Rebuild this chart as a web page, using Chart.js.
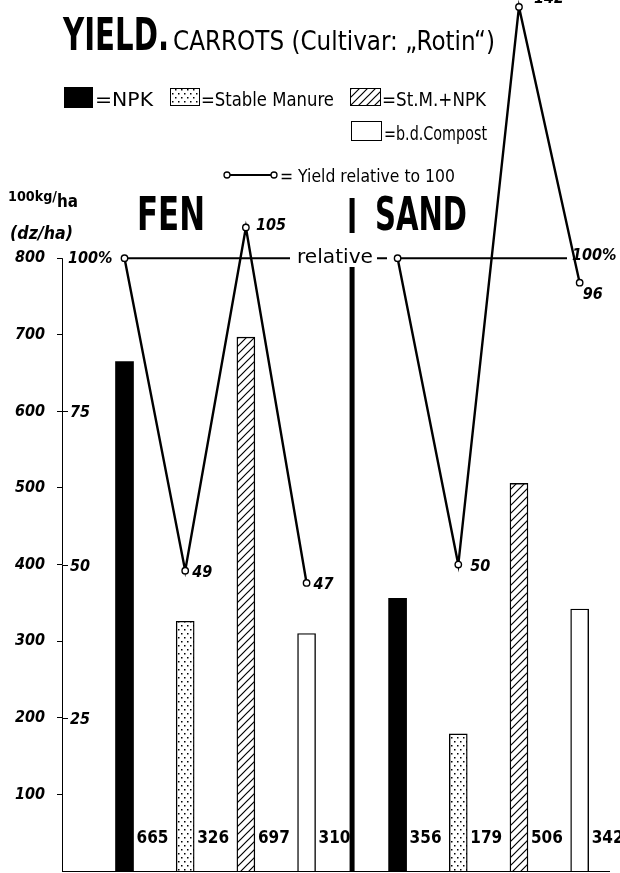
<!DOCTYPE html>
<html>
<head>
<meta charset="utf-8">
<script src="https://cdn.jsdelivr.net/npm/chart.js@4.4.0/dist/chart.umd.min.js"></script>
<style>
  html, body { margin: 0; padding: 0; background: #fff; }
  canvas { display: block; }
</style>
</head>
<body>
<canvas id="yieldChart" width="620" height="873"></canvas>
<script>
// Data
const soils = ['FEN', 'SAND'];
const treatments = ['NPK', 'Stable Manure', 'St.M.+NPK', 'b.d.Compost'];
const fenYield = [665, 326, 697, 310];      // 100 kg/ha
const sandYield = [356, 179, 506, 342];
const fenRelative = [100, 49, 105, 47];     // yield relative to 100
const sandRelative = [100, 50, 141, 96];
const relLabels = ['', '49', '105', '47', '', '50', '142', '96'];
// order of the plots along the x axis (sand group set a bit further apart)
const fenSlot = [1, 2, 3, 4];
const sandSlot = [5.5, 6.5, 7.5, 8.5];
const dividerSlot = 4.75;
const yTicks = [100, 200, 300, 400, 500, 600, 700, 800];
const relTicks = [25, 50, 75];
const Y_MAX = 1137;   // top of the plot area in kg units (100% = 800)

const COND = '"DejaVu Sans Condensed", "Liberation Sans Narrow", "DejaVu Sans", sans-serif';
const SANS = '"DejaVu Sans", sans-serif';

const canvas = document.getElementById('yieldChart');
const ctx = canvas.getContext('2d');

// fill patterns for the bars
function dotPattern() {
    const c = document.createElement('canvas');
    c.width = 6; c.height = 8;
    const g = c.getContext('2d');
    g.fillStyle = '#fff';
    g.fillRect(0, 0, 6, 8);
    g.fillStyle = '#000';
    g.fillRect(1, 1, 1.5, 1.5);
    g.fillRect(4, 5, 1.5, 1.5);
    return ctx.createPattern(c, 'repeat');
}
function hatchPattern() {
    const c = document.createElement('canvas');
    c.width = 8; c.height = 8;
    const g = c.getContext('2d');
    g.fillStyle = '#fff';
    g.fillRect(0, 0, 8, 8);
    g.strokeStyle = '#000';
    g.lineWidth = 1.2;
    g.beginPath();
    g.moveTo(0, 8); g.lineTo(8, 0);
    g.moveTo(-2, 2); g.lineTo(2, -2);
    g.moveTo(6, 10); g.lineTo(10, 6);
    g.stroke();
    return ctx.createPattern(c, 'repeat');
}
const fills = ['#000', dotPattern(), hatchPattern(), '#fff'];

// draw text squeezed/stretched to a given width
function fitText(c, txt, x, y, w, font) {
    c.font = font;
    const m = c.measureText(txt).width;
    c.save();
    c.translate(x, y);
    c.scale(w / m, 1);
    c.textAlign = 'left';
    c.fillText(txt, 0, 0);
    c.restore();
}

const barSets = treatments.map((t, i) => ({
    type: 'bar',
    label: t,
    data: [{ x: fenSlot[i], y: fenYield[i] }, { x: sandSlot[i], y: sandYield[i] }],
    backgroundColor: fills[i],
    borderColor: '#000',
    borderWidth: i === 0 ? 0 : 1.4,
    borderSkipped: 'bottom',
    barThickness: 18,
    grouped: false,
    yAxisID: 'y',
    order: 2
}));

const lineSet = {
    type: 'line',
    label: 'Yield relative to 100',
    data: [
        ...fenSlot.map((x, i) => ({ x: x, y: fenRelative[i] })),
        { x: dividerSlot, y: null },
        ...sandSlot.map((x, i) => ({ x: x, y: sandRelative[i] }))
    ],
    borderColor: '#000',
    borderWidth: 2.4,
    tension: 0,
    spanGaps: false,
    pointRadius: 3.2,
    pointBorderWidth: 1.4,
    pointBackgroundColor: '#fff',
    pointBorderColor: '#000',
    yAxisID: 'y2',
    order: 0,
    clip: false
};

const decor = {
    id: 'decor',
    beforeDatasetsDraw(chart) {
        const c = chart.ctx, a = chart.chartArea;
        const y = chart.scales.y, y2 = chart.scales.y2, x = chart.scales.x;
        c.save();
        c.strokeStyle = '#000';
        c.fillStyle = '#000';
        // y axis and baseline
        c.lineWidth = 1;
        c.beginPath();
        c.moveTo(a.left + 0.5, y.getPixelForValue(800));
        c.lineTo(a.left + 0.5, a.bottom);
        c.moveTo(a.left, a.bottom + 0.5);
        c.lineTo(a.right, a.bottom + 0.5);
        c.stroke();
        // relative scale ticks on the right side of the axis
        c.font = 'italic bold 16px ' + COND;
        c.textBaseline = 'middle';
        relTicks.forEach(v => {
            const py = Math.round(y2.getPixelForValue(v)) + 0.5;
            c.beginPath();
            c.moveTo(a.left, py);
            c.lineTo(a.left + 6, py);
            c.stroke();
            c.fillText(String(v), a.left + 8, py + 1);
        });
        c.fillText('100%', a.left + 6, y2.getPixelForValue(100) + 1);
        // reference line at 100 %
        const ry = y2.getPixelForValue(100);
        c.lineWidth = 2;
        c.beginPath();
        c.moveTo(x.getPixelForValue(fenSlot[0]), ry);
        c.lineTo(290, ry);
        c.moveTo(377, ry);
        c.lineTo(387, ry);
        c.moveTo(x.getPixelForValue(sandSlot[0]), ry);
        c.lineTo(567, ry);
        c.stroke();
        c.textBaseline = 'alphabetic';
        fitText(c, 'relative', 297, ry + 5, 76, '20px ' + SANS);
        c.font = 'italic bold 16px ' + COND;
        c.textBaseline = 'middle';
        c.fillText('100%', 572, ry - 2);
        // divider between fen and sand
        const dx = x.getPixelForValue(dividerSlot);
        c.lineWidth = 5;
        c.beginPath();
        c.moveTo(dx, 198);
        c.lineTo(dx, 233);
        c.moveTo(dx, 267);
        c.lineTo(dx, a.bottom);
        c.stroke();
        c.restore();
    },
    afterDatasetsDraw(chart) {
        const c = chart.ctx;
        c.save();
        c.fillStyle = '#000';
        c.strokeStyle = '#000';
        c.textBaseline = 'alphabetic';
        // yield values at the foot of each bar
        c.font = 'bold 17px ' + COND;
        treatments.forEach((t, i) => {
            chart.getDatasetMeta(i).data.forEach((el, j) => {
                const v = j === 0 ? fenYield[i] : sandYield[i];
                c.fillText(String(v), el.x + el.width / 2 + 3, 843);
            });
        });
        // relative values next to the points
        const offs = [[0, 0], [7, 6], [10, 2], [7, 6], [0, 0], [12, 6], [15, -4], [3, 16]];
        const pts = chart.getDatasetMeta(treatments.length).data.filter((p, k) => k !== 4);
        c.font = 'italic bold 16px ' + COND;
        pts.forEach((p, k) => {
            if (!relLabels[k]) return;
            c.fillText(relLabels[k], p.x + offs[k][0], p.y + offs[k][1]);
        });
        // title
        fitText(c, 'YIELD.', 63, 50, 106, 'bold 44px ' + SANS);
        fitText(c, 'CARROTS (Cultivar: \u201ERotin\u201C)', 173, 50, 322, '26px ' + SANS);
        // legend
        const sw = [[64, 87, 29, 21], [170, 88, 30, 18], [350, 88, 31, 18], [351, 121, 31, 20]];
        sw.forEach((s, i) => {
            c.fillStyle = fills[i];
            c.fillRect(s[0], s[1], s[2], s[3]);
            c.lineWidth = 1;
            c.strokeStyle = '#000';
            c.strokeRect(s[0] + 0.5, s[1] + 0.5, s[2] - 1, s[3] - 1);
        });
        c.fillStyle = '#000';
        fitText(c, '=NPK', 95, 106, 58, '19px ' + SANS);
        fitText(c, '=Stable Manure', 201, 106, 133, '19px ' + SANS);
        fitText(c, '=St.M.+NPK', 382, 106, 104, '19px ' + SANS);
        fitText(c, '=b.d.Compost', 384, 140, 103, '19px ' + SANS);
        c.lineWidth = 2;
        c.beginPath();
        c.moveTo(230, 175);
        c.lineTo(271, 175);
        c.stroke();
        [227, 274].forEach(cx => {
            c.beginPath();
            c.arc(cx, 175, 3, 0, Math.PI * 2);
            c.fillStyle = '#fff';
            c.fill();
            c.lineWidth = 1.3;
            c.stroke();
        });
        c.fillStyle = '#000';
        fitText(c, '= Yield relative to 100', 280, 182, 175, '17px ' + SANS);
        // soil headings
        fitText(c, soils[0], 137, 230, 68, 'bold 46px ' + SANS);
        fitText(c, soils[1], 375, 230, 92, 'bold 46px ' + SANS);
        // axis unit
        fitText(c, '100kg/', 8, 201, 49, 'bold 14px ' + SANS);
        fitText(c, 'ha', 57, 207, 21, 'bold 17px ' + SANS);
        fitText(c, '(dz/ha)', 10, 239, 63, 'bold italic 17px ' + SANS);
        c.restore();
    }
};

new Chart(ctx, {
    type: 'bar',
    data: { datasets: [...barSets, lineSet] },
    options: {
        responsive: false,
        animation: false,
        devicePixelRatio: 1,
        layout: { autoPadding: false, padding: { top: 0, right: 10, bottom: 2, left: 0 } },
        plugins: { legend: { display: false }, tooltip: { enabled: false } },
        scales: {
            x: { type: 'linear', min: -0.03, max: 9, offset: false, display: false },
            y: {
                min: 0,
                max: Y_MAX,
                afterBuildTicks: s => { s.ticks = yTicks.map(v => ({ value: v })); },
                afterFit: s => { s.width = 62; s.paddingTop = 0; s.paddingBottom = 0; },
                border: { display: false },
                grid: { drawOnChartArea: false, drawTicks: true, tickLength: 5, color: '#000' },
                ticks: {
                    padding: 12,
                    color: '#000',
                    font: { family: COND, size: 16, weight: 'bold', style: 'italic' }
                }
            },
            y2: { min: 0, max: Y_MAX / 8, display: false }
        }
    },
    plugins: [decor]
});
</script>
</body>
</html>
